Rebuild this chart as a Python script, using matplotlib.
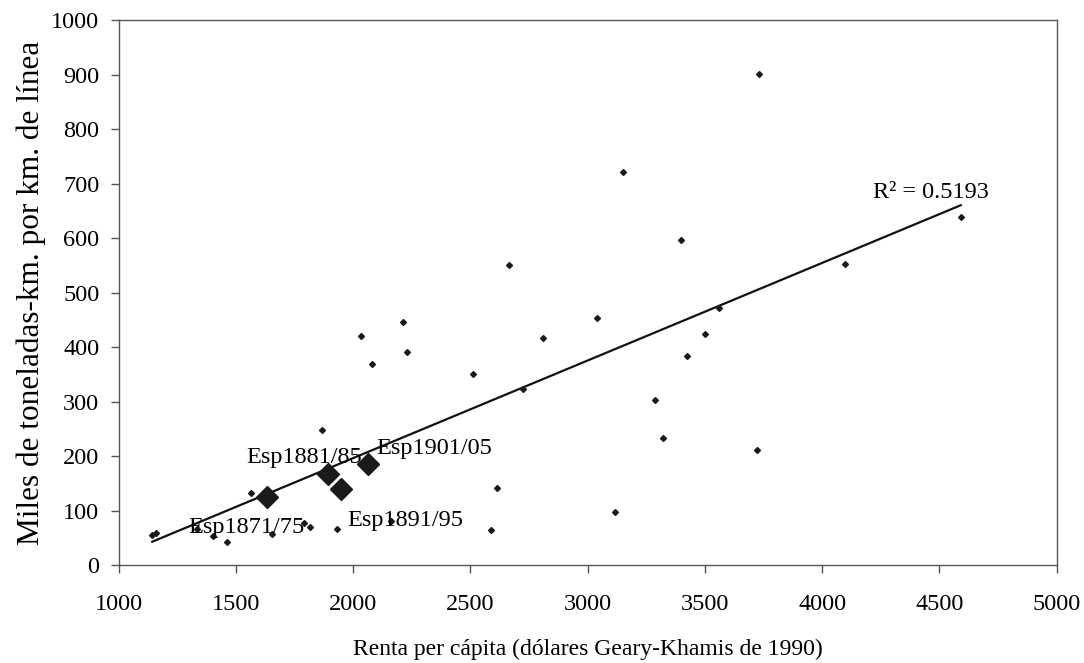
"""
Renta per capita vs. traffic density on the railways, with Spain highlighted
"""

import numpy as np
import matplotlib
matplotlib.use("Agg")
import matplotlib.pyplot as plt

# small points: other countries / periods
renta = [1143, 1159, 1333, 1403, 1460, 1563, 1655, 1790, 1816, 1868,
         1930, 2160, 2032, 2082, 2211, 2228, 2510, 2586, 2612, 2663,
         2723, 2808, 3038, 3115, 3149, 3286, 3320, 3397, 3422, 3499,
         3560, 3721, 3729, 4096, 4591]
trafico = [56, 59, 66, 54, 43, 132, 58, 78, 70, 249,
           66, 81, 421, 370, 447, 392, 351, 65, 142, 550,
           323, 417, 454, 98, 722, 304, 234, 597, 384, 425,
           472, 212, 901, 553, 638]

# Spain
esp_labels = ["Esp1871/75", "Esp1881/85", "Esp1891/95", "Esp1901/05"]
esp_renta = [1631, 1894, 1947, 2064]
esp_trafico = [125, 167, 140, 186]
esp_offsets = [(-78, -36), (-82, 11), (7, -37), (8, 10)]

r2_text = "R\u00b2 = 0.5193"

plt.rcParams["font.family"] = ["Liberation Serif", "DejaVu Serif"]
GREY = "#555555"


def main():
    fig = plt.figure(figsize=(10.84, 6.63), dpi=100)
    ax = fig.add_axes([0.1095, 0.1474, 0.8653, 0.8224])

    ax.plot(renta, trafico, "D", color="#1a1a1a", markersize=3.0, zorder=3)
    ax.plot(esp_renta, esp_trafico, "D", color="#1a1a1a", markersize=11.5, zorder=3)

    all_x = np.array(renta + esp_renta, dtype=float)
    all_y = np.array(trafico + esp_trafico, dtype=float)
    slope, intercept = np.polyfit(all_x, all_y, 1)
    xs = np.array([all_x.min(), all_x.max()])
    ax.plot(xs, slope * xs + intercept, color="#111111", lw=1.6, zorder=2)

    ax.text(4217, 674, r2_text, fontsize=17.5, ha="left", va="baseline")

    for lab, x, y, off in zip(esp_labels, esp_renta, esp_trafico, esp_offsets):
        ax.annotate(lab, (x, y), xytext=off, textcoords="offset pixels",
                    fontsize=17.5, ha="left", va="baseline", zorder=4)

    ax.set_xlim(1000, 5000)
    ax.set_ylim(0, 1000)
    ax.set_xticks(np.arange(1000, 5001, 500))
    ax.set_yticks(np.arange(0, 1001, 100))
    for s in ax.spines.values():
        s.set_color(GREY)
        s.set_linewidth(1.0)
    ax.tick_params(direction="out", length=6, width=1.0, color=GREY,
                   labelsize=17.5, top=False, right=False)
    ax.tick_params(axis="x", pad=15)
    ax.tick_params(axis="y", pad=8)

    ax.set_xlabel("Renta per cápita (dólares Geary-Khamis de 1990)", fontsize=17, labelpad=17)
    ax.set_ylabel("Miles de toneladas-km. por km. de línea", fontsize=22.5, labelpad=4)

    fig.savefig("out.png", dpi=100)


if __name__ == "__main__":
    main()
